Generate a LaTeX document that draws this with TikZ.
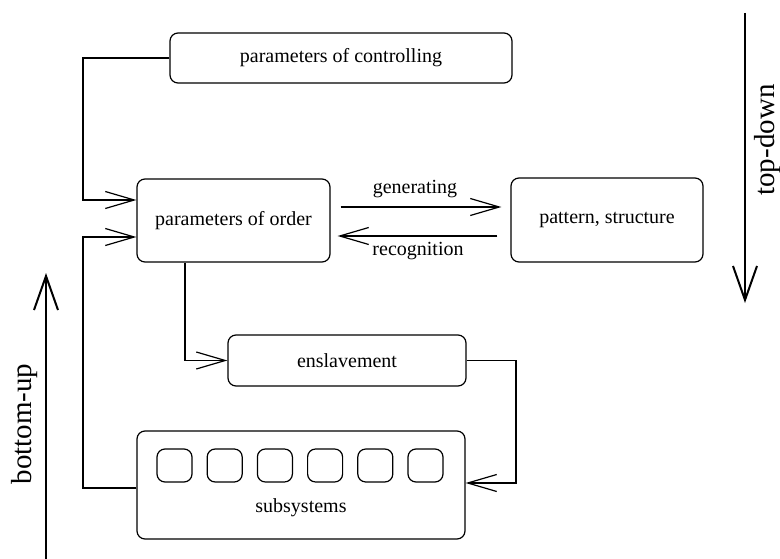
\documentclass[tikz,border=0pt]{standalone}
\usepackage{fontspec}
\setmainfont{Liberation Serif}
\usetikzlibrary{arrows.meta,positioning}
\tikzset{
  box/.style={draw, line width=1.2pt, rounded corners=8pt, inner sep=0pt, align=center, font=\fontsize{20}{24}\selectfont},
  cell/.style={draw, line width=1.2pt, rounded corners=8pt, minimum width=35pt, minimum height=33pt, inner sep=0pt},
  lbl/.style={inner sep=0pt, font=\fontsize{20}{24}\selectfont},
  biglbl/.style={inner sep=0pt, font=\fontsize{29}{34}\selectfont, rotate=90},
  arr/.style={line width=1.2pt, -{Straight Barb[length=29pt,width=17pt,line width=1.2pt]}},
  conn/.style={line width=1.2pt},
  bigarr/.style={line width=2pt, -{Straight Barb[length=34pt,width=24pt,line width=2pt]}}
}
\begin{document}
\begin{tikzpicture}[x=1pt,y=-1pt]
\useasboundingbox (0,0) rectangle (780,559);
\node[box, minimum width=342pt, minimum height=50pt] (ctrl) at (341,58) {parameters of controlling};
\node[box, minimum width=193pt, minimum height=83pt] (order) at (233.5,220.5) {parameters of order};
\node[box, minimum width=192pt, minimum height=84pt] (pattern) at (607,220) {pattern, structure};
\node[box, minimum width=238pt, minimum height=51pt] (ensl) at (347,360.5) {enslavement};
\node[box, minimum width=328pt, minimum height=108pt] (subs) at (301,485) {};
\foreach \i in {0,...,5} {
  \node[cell] (c\i) at (174.5+50.2*\i,465.5) {};
}
\node[lbl] (subslbl) at (301,508) {subsystems};

% control -> order
\coordinate (ca) at (83,58);
\draw[arr] (ctrl.west) -- (ca) |- ([yshift=20.5pt]order.west);
% subsystems -> order (bottom-up feedback)
\coordinate (sa) at (83,488);
\draw[arr] ([yshift=-3pt]subs.west) -- (sa) |- ([yshift=-16.5pt]order.west);
% order -> enslavement
\draw[arr] ([xshift=-48.5pt]order.south) |- (ensl.west);
% enslavement -> subsystems
\coordinate (ea) at (516,360.5);
\draw[arr] (ensl.east) -- (ea) |- ([yshift=2pt]subs.east);
% generating / recognition
\draw[arr] ([xshift=10pt,yshift=13.5pt]order.east) -- ([xshift=-9pt,yshift=13pt]pattern.west);
\draw[arr] ([xshift=-13pt,yshift=-16pt]pattern.west) -- ([xshift=7pt,yshift=-15.5pt]order.east);
\node[lbl] (gen) at (415,189) {generating};
\node[lbl] (rec) at (418,251) {recognition};

% big arrows
\coordinate (bu0) at (46,559);
\coordinate (bu1) at (46,273);
\draw[bigarr] (bu0) -- (bu1);
\node[biglbl] (bul) at (25,424) {bottom-up};
\coordinate (td0) at (745,13);
\coordinate (td1) at (745,303);
\draw[bigarr] (td0) -- (td1);
\node[biglbl] (tdl) at (768,140) {top-down};
\end{tikzpicture}
\end{document}
